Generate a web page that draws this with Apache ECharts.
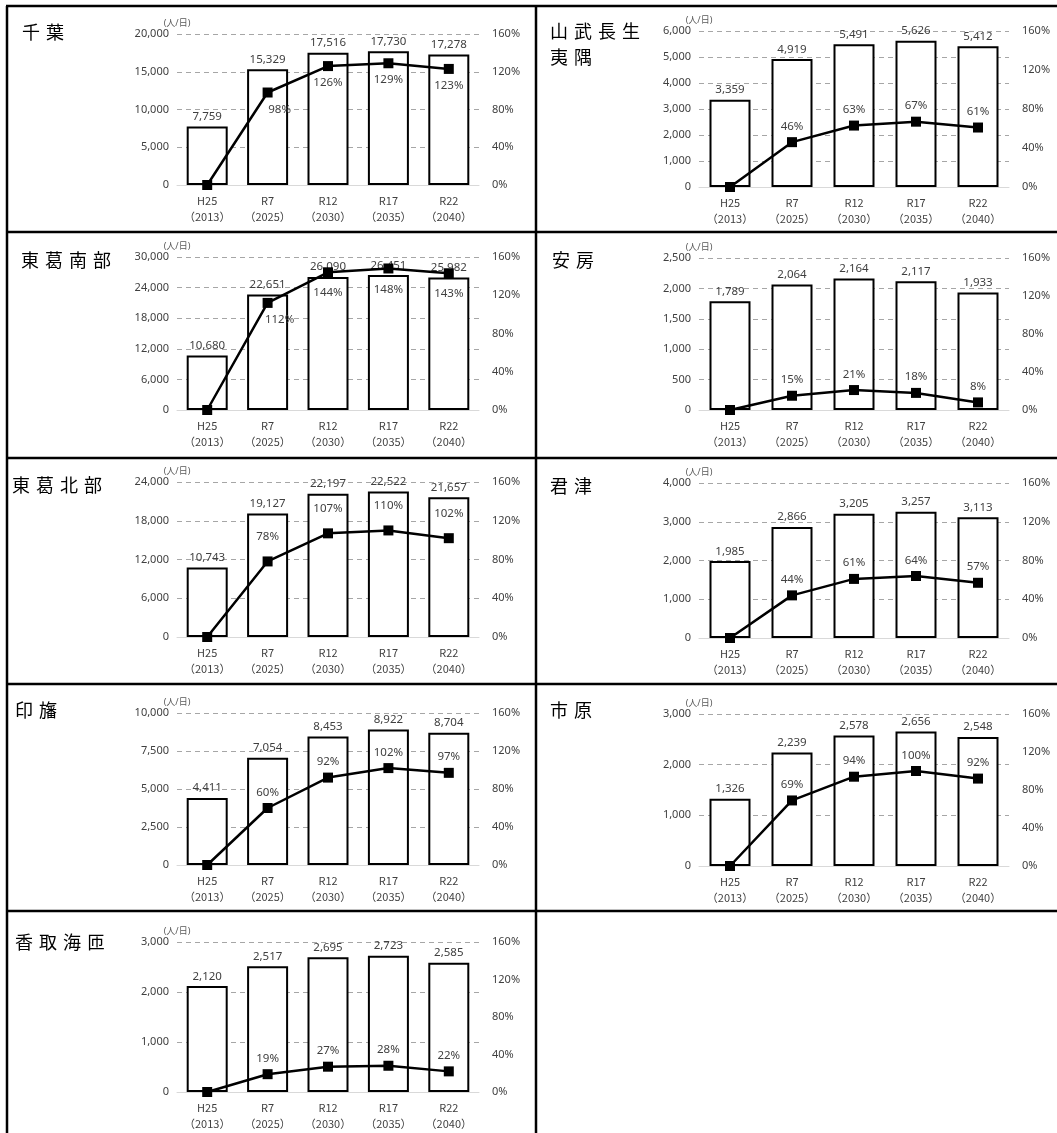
<!DOCTYPE html>
<html>
<head>
<meta charset="utf-8">
<script src="https://cdn.jsdelivr.net/npm/echarts@6/dist/echarts.min.js"></script>
<style>
  html, body { margin: 0; padding: 0; background: #fff; }
  #chart { width: 1057px; height: 1133px; }
</style>
</head>
<body>
<div id="chart"></div>
<script>
// Fiscal-year categories shared by every panel
const categories = ['H25\n（2013）', 'R7\n（2025）', 'R12\n（2030）', 'R17\n（2035）', 'R22\n（2040）'];

// Area names (one or two lines each), in table order: left then right, row by row
const areaNames = [
  ['千葉'], ['山武長生', '夷隅'],
  ['東葛南部'], ['安房'],
  ['東葛北部'], ['君津'],
  ['印旛'], ['市原'],
  ['香取海匝']
];

// Users per day (人/日)
const chibaUsers     = [7759, 15329, 17516, 17730, 17278];
const sanbuUsers     = [3359, 4919, 5491, 5626, 5412];
const tokatsuSUsers  = [10680, 22651, 26090, 26451, 25982];
const awaUsers       = [1789, 2064, 2164, 2117, 1933];
const tokatsuNUsers  = [10743, 19127, 22197, 22522, 21657];
const kimitsuUsers   = [1985, 2866, 3205, 3257, 3113];
const inbaUsers      = [4411, 7054, 8453, 8922, 8704];
const ichiharaUsers  = [1326, 2239, 2578, 2656, 2548];
const katoriUsers    = [2120, 2517, 2695, 2723, 2585];

// Growth rate versus H25 (%)
const chibaRate      = [0, 98, 126, 129, 123];
const sanbuRate      = [0, 46, 63, 67, 61];
const tokatsuSRate   = [0, 112, 144, 148, 143];
const awaRate        = [0, 15, 21, 18, 8];
const tokatsuNRate   = [0, 78, 107, 110, 102];
const kimitsuRate    = [0, 44, 61, 64, 57];
const inbaRate       = [0, 60, 92, 102, 97];
const ichiharaRate   = [0, 69, 94, 100, 92];
const katoriRate     = [0, 19, 27, 28, 22];

// Left value axis range per panel
const usersAxisMax  = [20000, 6000, 30000, 2500, 24000, 4000, 10000, 3000, 3000];
const usersAxisStep = [5000, 1000, 6000, 500, 6000, 1000, 2500, 1000, 1000];
// Right rate axis (%)
const rateAxisMax = 160;
const rateAxisStep = 40;

const usersList = [chibaUsers, sanbuUsers, tokatsuSUsers, awaUsers, tokatsuNUsers,
                   kimitsuUsers, inbaUsers, ichiharaUsers, katoriUsers];
const rateList  = [chibaRate, sanbuRate, tokatsuSRate, awaRate, tokatsuNRate,
                   kimitsuRate, inbaRate, ichiharaRate, katoriRate];

// ---- layout (pixels) ----
const colX = [7, 536];                         // cell left edges
const rowY = [6, 232, 458, 684, 911];          // cell top edges
const plotLeft  = [177, 699];
const plotWidth = [302, 310];
const plotTop    = [34, 31, 257, 258, 482, 483, 713, 714, 942];
const plotBottom = [185, 187, 410, 410, 637, 638, 865, 866, 1092];
const nameX = [22, 550, 21, 552, 12, 550, 15, 550, 15];
const nameY = [33, 32, 261, 261, 486, 487, 711, 711, 943];
// rate labels drawn under the markers in these panels
const rateBelow = [true, false, true, false, false, false, false, false, false];
const rateLift  = [6, 5, 10, 5, 14, 5, 5, 5, 5];

const fontStack = '"Noto Sans", "Noto Sans CJK JP", sans-serif';
const catFont = '"Noto Sans CJK JP", "Noto Sans", sans-serif';
const textGray = '#404040';
const fmtNum = v => Number(v).toLocaleString('en-US');

const grids = [], xAxes = [], yAxes = [], series = [], graphics = [];

usersList.forEach((users, i) => {
  const col = i % 2;
  const top = plotTop[i], bottom = plotBottom[i];
  grids.push({ left: plotLeft[col], width: plotWidth[col], top: top, height: bottom - top });

  xAxes.push({
    type: 'category', gridIndex: i, data: categories,
    axisLine: { lineStyle: { color: '#d9d9d9', width: 1 } },
    axisTick: { show: false },
    axisLabel: { color: textGray, fontSize: 11, lineHeight: 16, margin: 8, fontFamily: catFont, interval: 0 }
  });

  yAxes.push({
    type: 'value', gridIndex: i, min: 0, max: usersAxisMax[i], interval: usersAxisStep[i],
    name: '(人/日)', nameLocation: 'end', nameGap: 6,
    nameTextStyle: { color: '#595959', fontSize: 9, fontFamily: fontStack, align: 'center' },
    axisLine: { show: false }, axisTick: { show: false },
    axisLabel: { color: textGray, fontSize: 11, margin: 8, fontFamily: fontStack, formatter: fmtNum },
    splitLine: { show: true, showMinLine: false, lineStyle: { color: '#a6a6a6', type: [5, 4], width: 1 } }
  });
  yAxes.push({
    type: 'value', gridIndex: i, position: 'right', min: 0, max: rateAxisMax, interval: rateAxisStep,
    axisLine: { show: false }, axisTick: { show: false },
    axisLabel: { color: textGray, fontSize: 11, margin: 13, fontFamily: fontStack, formatter: '{value}%' },
    splitLine: { show: false }
  });

  series.push({
    type: 'bar', xAxisIndex: i, yAxisIndex: 2 * i, data: users, barWidth: 41,
    itemStyle: { color: '#ffffff', borderColor: '#000000', borderWidth: 2 },
    label: { show: true, position: 'top', distance: 4, color: textGray, fontSize: 11.5,
             fontFamily: fontStack, formatter: p => fmtNum(p.value) },
    z: 2
  });

  const rates = rateList[i].map((v, k) => {
    const item = { value: v };
    if (v === 0) item.label = { show: false };
    else if (rateBelow[i] && k === 1) item.label = { position: 'bottom', distance: 6, offset: [12, 0] };
    return item;
  });
  series.push({
    type: 'line', xAxisIndex: i, yAxisIndex: 2 * i + 1, data: rates,
    symbol: 'rect', symbolSize: 10,
    lineStyle: { color: '#000000', width: 2.5 },
    itemStyle: { color: '#000000' },
    label: { show: true, position: rateBelow[i] ? 'bottom' : 'top', distance: rateLift[i],
             color: textGray, fontSize: 11.5, fontFamily: fontStack, formatter: '{c}%' },
    z: 5
  });

  // area name, one character at a time with wide tracking
  areaNames[i].forEach((line, li) => {
    Array.from(line).forEach((ch, ci) => {
      graphics.push({
        type: 'text', left: nameX[i] + ci * 24, top: nameY[i] - 10 + li * 26,
        style: { text: ch, fill: '#000', font: '18px "Noto Sans CJK JP"' }
      });
    });
  });
});

// table rules
const rule = (x1, y1, x2, y2) => ({
  type: 'line', shape: { x1, y1, x2, y2 }, style: { stroke: '#000', lineWidth: 2.5 }, z: 10
});
rowY.forEach(y => graphics.push(rule(colX[0] - 1, y, 1057, y)));
graphics.push(rule(colX[0], rowY[0], colX[0], 1133));
graphics.push(rule(colX[1], rowY[0], colX[1], 1133));

const chart = echarts.init(document.getElementById('chart'), null, { renderer: 'canvas' });
chart.setOption({
  animation: false,
  backgroundColor: '#ffffff',
  grid: grids,
  xAxis: xAxes,
  yAxis: yAxes,
  series: series,
  graphic: graphics
});
</script>
</body>
</html>
